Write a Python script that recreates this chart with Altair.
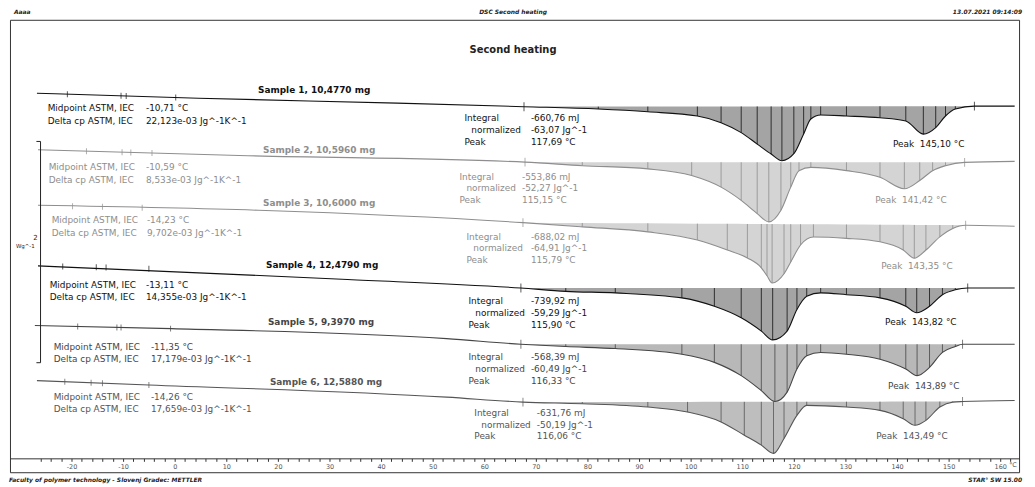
import altair as alt
import pandas as pd

# ---------------- data ----------------
SIDS = ["1", "2", "3", "4", "5", "6"]
SAMPLE_LABELS = ["Sample 1, 10,4770 mg", "Sample 2, 10,5960 mg", "Sample 3, 10,6000 mg",
                 "Sample 4, 12,4790 mg", "Sample 5, 9,3970 mg", "Sample 6, 12,5880 mg"]

# temperature (°C) and heat flow (W/g, stacked with offsets)
S1_T = [-26.7, 4.6, 43.1, 67.7, 82.1, 91.7, 101.3, 105.9, 109.8, 112.9, 115.6, 117.69, 120.0, 121.9,
        123.3, 125.2, 130.2, 136.7, 141.7, 145.1, 147.5, 149.4, 151.3, 155.0, 162.8]
S1_V = [3.426, 3.381, 3.336, 3.304, 3.283, 3.258, 3.220, 3.160, 3.070, 2.966, 2.876, 2.816, 2.879, 3.058,
        3.193, 3.229, 3.220, 3.204, 3.175, 3.056, 3.115, 3.220, 3.283, 3.309, 3.309]
S2_T = [-26.5, 14.2, 67.9, 79.0, 91.7, 100.2, 105.9, 109.8, 112.9, 115.15, 117.5, 119.4, 121.0, 123.3,
        130.2, 136.7, 141.42, 144.4, 146.9, 149.4, 153.1, 162.8]
S2_V = [2.915, 2.861, 2.803, 2.771, 2.742, 2.682, 2.577, 2.457, 2.338, 2.263, 2.368, 2.577, 2.726, 2.756,
        2.726, 2.666, 2.562, 2.637, 2.726, 2.771, 2.801, 2.810]
S3_T = [-26.5, 16.2, 67.5, 79.0, 91.7, 101.3, 107.1, 111.0, 113.7, 114.8, 115.79, 118.1, 119.4, 121.3,
        123.8, 130.2, 136.7, 141.2, 143.35, 145.6, 148.3, 150.8, 153.3, 162.8]
S3_V = [2.413, 2.368, 2.256, 2.218, 2.173, 2.099, 2.009, 1.937, 1.848, 1.776, 1.710, 1.794, 1.901, 2.054,
        2.126, 2.114, 2.083, 2.009, 1.935, 2.009, 2.128, 2.204, 2.233, 2.224]
S4_T = [-26.5, 17.5, 33.5, 67.1, 75.8, 85.4, 98.3, 104.6, 109.8, 113.7, 115.90, 118.7, 120.6, 122.5,
        125.2, 130.2, 136.7, 141.7, 143.82, 146.3, 148.8, 151.3, 153.7, 162.8]
S4_V = [1.865, 1.776, 1.742, 1.665, 1.635, 1.621, 1.576, 1.500, 1.396, 1.276, 1.196, 1.276, 1.471, 1.590,
        1.621, 1.605, 1.576, 1.500, 1.441, 1.500, 1.605, 1.650, 1.665, 1.665]
S5_T = [-27.1, -0.6, 52.7, 67.1, 75.8, 85.4, 98.3, 104.6, 109.8, 113.7, 116.33, 118.7, 120.6, 122.5,
        125.2, 130.2, 136.7, 141.7, 143.89, 146.3, 148.8, 151.3, 152.7, 162.8]
S5_V = [1.327, 1.298, 1.208, 1.157, 1.136, 1.118, 1.067, 0.993, 0.873, 0.738, 0.639, 0.724, 0.933, 1.052,
        1.083, 1.067, 1.022, 0.933, 0.873, 0.948, 1.083, 1.136, 1.157, 1.157]
S6_T = [-26.7, -5.0, 52.7, 67.5, 79.0, 91.7, 99.4, 105.9, 110.4, 113.7, 116.06, 118.1, 120.6, 122.5,
        130.2, 136.7, 141.2, 143.49, 145.6, 148.3, 150.8, 152.7, 162.8]
S6_V = [0.828, 0.789, 0.679, 0.634, 0.619, 0.589, 0.544, 0.455, 0.335, 0.245, 0.170, 0.305, 0.514, 0.604,
        0.589, 0.559, 0.484, 0.424, 0.469, 0.589, 0.634, 0.639, 0.648]

CURVE_T = [S1_T, S2_T, S3_T, S4_T, S5_T, S6_T]
CURVE_V = [S1_V, S2_V, S3_V, S4_V, S5_V, S6_V]

# integration limits (°C)
INT_START = [67.7, 67.9, 67.5, 67.1, 67.1, 67.5]
INT_END = [155.0, 153.1, 153.3, 153.7, 152.7, 152.7]

# glass-transition evaluation markers
TG_T = [[-20.8, -10.4, -9.4, 0.2], [-17.1, -10.2, -8.5, -4.4], [-19.8, -14.0, -6.3],
        [-21.7, -15.2, -13.3, -5.0], [-18.8, -11.2, -10.4, -0.8], [-21.3, -16.2, -14.0, -5.0]]
TG_V = [[3.417, 3.403, 3.401, 3.388], [2.902, 2.893, 2.891, 2.885], [2.405, 2.399, 2.391],
        [1.859, 1.852, 1.850, 1.840], [1.318, 1.309, 1.308, 1.298], [0.818, 0.809, 0.805, 0.789]]

MID_VALUES = ["-10,71 °C", "-10,59 °C", "-14,23 °C", "-13,11 °C", "-11,35 °C", "-14,26 °C"]
DCP_VALUES = ["22,123e-03 Jg^-1K^-1", "8,533e-03 Jg^-1K^-1", "9,702e-03 Jg^-1K^-1",
              "14,355e-03 Jg^-1K^-1", "17,179e-03 Jg^-1K^-1", "17,659e-03 Jg^-1K^-1"]
INT_VALUES = ["-660,76 mJ", "-553,86 mJ", "-688,02 mJ", "-739,92 mJ", "-568,39 mJ", "-631,76 mJ"]
NORM_VALUES = ["-63,07 Jg^-1", "-52,27 Jg^-1", "-64,91 Jg^-1", "-59,29 Jg^-1", "-60,49 Jg^-1", "-50,19 Jg^-1"]
PEAK1_VALUES = ["117,69 °C", "115,15 °C", "115,79 °C", "115,90 °C", "116,33 °C", "116,06 °C"]
PEAK2_VALUES = ["145,10 °C", "141,42 °C", "143,35 °C", "143,82 °C", "143,89 °C", "143,49 °C"]

X_TICKS = list(range(-26, 163, 2))
SCALE_BAR_T = -26.0          # position of the 2 W/g scale bar
SCALE_BAR_V = [0.99, 2.99]   # 2 W/g

# ---------------- layout (page pixels -> data coords) ----------------
def T_of(px):
    return (px - 176) / 5.2

def V_of(py):
    return (474 - py) / 111.5

X_DOMAIN = [T_of(10), T_of(1027)]
Y_DOMAIN = [V_of(474), V_of(18)]

SAMPLE_LABEL_POS = [(260, 89), (265, 149), (265, 203), (268, 265), (270, 323), (272, 383)]
MID_POS = [(48, 147, 107, 120), (49, 147, 166, 179), (52, 148, 220, 232.5),
           (50, 147, 285, 297), (54, 152, 348, 359.5), (54, 152, 398, 410)]
INT_POS = [(468, 535, 117.5), (463, 526, 176), (470, 535, 236.5),
           (472, 535, 301.5), (472, 535, 358), (478, 541, 414)]
PK2_POS = [(900, 927, 143), (882, 909, 200), (888, 915, 266),
           (892, 919, 323), (895, 922, 387), (883, 910, 438)]

COLOR_DOMAIN = SIDS + ["k", "a"]
COLOR_RANGE = ["#111111", "#8e8e8e", "#8e8e8e", "#111111", "#454545", "#555555", "#222222", "#555555"]
color_scale = alt.Scale(domain=COLOR_DOMAIN, range=COLOR_RANGE)

xs = alt.Scale(domain=X_DOMAIN, nice=False, zero=False)
ys = alt.Scale(domain=Y_DOMAIN, nice=False, zero=False)

# ---------------- tables ----------------
curve_rows, hatch_rows, lim_rows, tg_rows = [], [], [], []
for i, sid in enumerate(SIDS):
    T, V = CURVE_T[i], CURVE_V[i]
    t0, t1 = INT_START[i], INT_END[i]
    b0, b1 = V[T.index(t0)], V[T.index(t1)]
    for t, v in zip(T, V):
        curve_rows.append({"sid": sid, "T": t, "V": v})
        if t0 <= t <= t1:
            hatch_rows.append({"sid": sid, "T": t, "V": v, "B": b0 + (b1 - b0) * (t - t0) / (t1 - t0)})
    lim_rows.append({"sid": sid, "T": t0, "V": b0})
    lim_rows.append({"sid": sid, "T": t1, "V": b1})
    for t, v in zip(TG_T[i], TG_V[i]):
        tg_rows.append({"sid": sid, "T": t, "V": v})

curve_df = pd.DataFrame(curve_rows)
hatch_df = pd.DataFrame(hatch_rows)
lim_df = pd.DataFrame(lim_rows)
tg_df = pd.DataFrame(tg_rows)

txt_normal, txt_bold = [], []
for i, sid in enumerate(SIDS):
    lx, vx, y1, y2 = MID_POS[i]
    txt_normal += [
        {"sid": sid, "T": T_of(lx), "V": V_of(y1), "text": "Midpoint ASTM, IEC"},
        {"sid": sid, "T": T_of(vx), "V": V_of(y1), "text": MID_VALUES[i]},
        {"sid": sid, "T": T_of(lx), "V": V_of(y2), "text": "Delta cp ASTM, IEC"},
        {"sid": sid, "T": T_of(vx), "V": V_of(y2), "text": DCP_VALUES[i]},
    ]
    ix, ivx, iy = INT_POS[i]
    txt_normal += [
        {"sid": sid, "T": T_of(ix), "V": V_of(iy), "text": "Integral"},
        {"sid": sid, "T": T_of(ivx), "V": V_of(iy), "text": INT_VALUES[i]},
        {"sid": sid, "T": T_of(ix + 7), "V": V_of(iy + 12), "text": "normalized"},
        {"sid": sid, "T": T_of(ivx), "V": V_of(iy + 12), "text": NORM_VALUES[i]},
        {"sid": sid, "T": T_of(ix), "V": V_of(iy + 24), "text": "Peak"},
        {"sid": sid, "T": T_of(ivx), "V": V_of(iy + 24), "text": PEAK1_VALUES[i]},
    ]
    px_, pvx, py_ = PK2_POS[i]
    txt_normal += [
        {"sid": sid, "T": T_of(px_), "V": V_of(py_), "text": "Peak"},
        {"sid": sid, "T": T_of(pvx), "V": V_of(py_), "text": PEAK2_VALUES[i]},
    ]
    sx, sy = SAMPLE_LABEL_POS[i]
    txt_bold.append({"sid": sid, "T": T_of(sx), "V": V_of(sy), "text": SAMPLE_LABELS[i]})

normal_df = pd.DataFrame(txt_normal)
bold_df = pd.DataFrame(txt_bold)
unit_df = pd.DataFrame([{"sid": "a", "T": T_of(1017), "V": V_of(467), "text": "°C"}])

hdr_left = pd.DataFrame([
    {"sid": "k", "T": T_of(14), "V": V_of(10), "text": "Aaaa"},
    {"sid": "k", "T": T_of(9), "V": V_of(482), "text": "Faculty of polymer technology - Slovenj Gradec: METTLER"},
])
hdr_center = pd.DataFrame([{"sid": "k", "T": T_of(517), "V": V_of(10), "text": "DSC Second heating"}])
hdr_right = pd.DataFrame([
    {"sid": "k", "T": T_of(1030), "V": V_of(10), "text": "13.07.2021 09:14:09"},
    {"sid": "k", "T": T_of(1030), "V": V_of(482), "text": "STAR° SW 15.00"},
])
title_df = pd.DataFrame([{"sid": "k", "T": T_of(517), "V": V_of(48), "text": "Second heating"}])
scale_txt = pd.DataFrame([
    {"sid": "k", "T": T_of(38), "V": V_of(238), "text": "2", "fs": 7},
    {"sid": "k", "T": T_of(35), "V": V_of(246), "text": "Wg^-1", "fs": 5.5},
])
bar_df = pd.DataFrame([{"sid": "k", "T": SCALE_BAR_T, "V": SCALE_BAR_V[0], "V2": SCALE_BAR_V[1]}])
cap_df = pd.DataFrame([
    {"sid": "k", "T": SCALE_BAR_T - 0.8, "T2": SCALE_BAR_T, "V": SCALE_BAR_V[0]},
    {"sid": "k", "T": SCALE_BAR_T - 0.8, "T2": SCALE_BAR_T, "V": SCALE_BAR_V[1]},
])

FONT = "DejaVu Sans"
col = alt.Color("sid:N", scale=color_scale, legend=None)

x_axis = alt.Axis(values=X_TICKS, offset=-14, grid=False, domain=True, domainColor="#333",
                  tickSize=3, tickColor="#333", labelFontSize=6.5, labelColor="#555", labelFont=FONT,
                  labelPadding=2, labelOverlap=False, labelFlush=False, title="",
                  labelExpr="(datum.value % 10 == 0 && datum.value >= -20 && datum.value <= 160) ? '' + datum.value : ''")


def X(field="T"):
    return alt.X(f"{field}:Q", scale=xs, axis=x_axis, title="")


def Y(field="V"):
    return alt.Y(f"{field}:Q", scale=ys, axis=None)


area = alt.Chart(hatch_df).mark_area(interpolate="monotone", opacity=0.38).encode(
    x=X(), y=Y(), y2="B:Q", color=col)
hatch = alt.Chart(hatch_df).mark_rule(strokeWidth=0.8).encode(x=X(), y=Y(), y2="B:Q", color=col)
lines = alt.Chart(curve_df).mark_line(interpolate="monotone", strokeWidth=1.1).encode(
    x=X(), y=Y(), color=col, order="T:Q")
lims = alt.Chart(lim_df).mark_tick(orient="vertical", size=9, thickness=1).encode(x=X(), y=Y(), color=col)
tgs = alt.Chart(tg_df).mark_tick(orient="vertical", size=6, thickness=1).encode(x=X(), y=Y(), color=col)
bar = alt.Chart(bar_df).mark_rule(strokeWidth=1).encode(x=X(), y=Y(), y2="V2:Q", color=col)
caps = alt.Chart(cap_df).mark_rule(strokeWidth=1).encode(x=X(), x2="T2:Q", y=Y(), color=col)


def texts(df, **kw):
    return alt.Chart(df).mark_text(font=FONT, baseline="middle", **kw).encode(
        x=X(), y=Y(), text="text:N", color=col)


t_normal = texts(normal_df, align="left", fontSize=9)
t_unit = texts(unit_df, align="left", fontSize=6.5)
t_bold = texts(bold_df, align="left", fontSize=9, fontWeight="bold")
t_title = texts(title_df, align="center", fontSize=10, fontWeight="bold")
t_hl = texts(hdr_left, align="left", fontSize=6, fontWeight="bold", fontStyle="italic")
t_hc = texts(hdr_center, align="center", fontSize=6, fontWeight="bold", fontStyle="italic")
t_hr = texts(hdr_right, align="right", fontSize=6, fontWeight="bold", fontStyle="italic")
t_scale = alt.Chart(scale_txt).mark_text(font=FONT, baseline="middle", align="right").encode(
    x=X(), y=Y(), text="text:N", color=col, size=alt.Size("fs:Q", scale=None, legend=None))

chart = alt.layer(
    area, hatch, lines, lims, tgs, bar, caps,
    t_normal, t_unit, t_bold, t_title, t_hl, t_hc, t_hr, t_scale
).properties(
    width=1017, height=456,
    padding={"left": 2, "top": 10, "right": 8, "bottom": 13},
    autosize=alt.AutoSizeParams(type="none"),
    background="white",
).configure_view(stroke="#333333", strokeWidth=1)

chart.save("out.html", embed_options={"renderer": "svg", "actions": False})
